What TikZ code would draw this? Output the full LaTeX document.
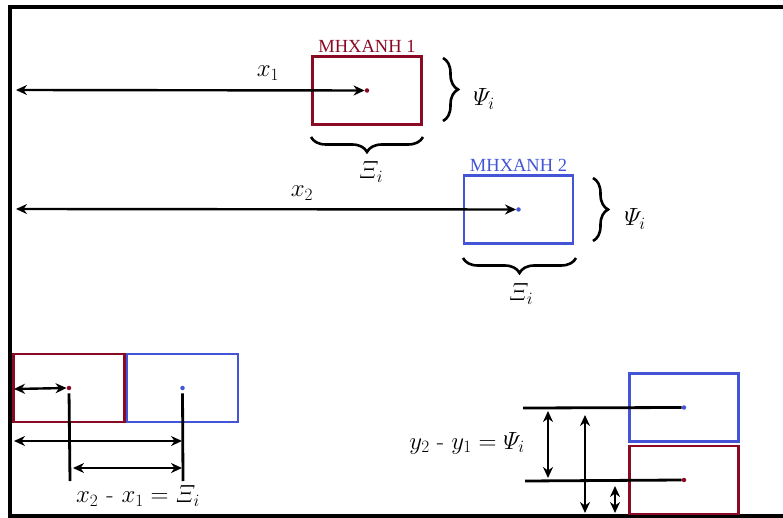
\documentclass[tikz,border=0pt]{standalone}
\usepackage{amsmath,amssymb}
\usepackage{fontspec}
\usepackage{xcolor}
\usepackage{tikz}
\usetikzlibrary{arrows.meta,positioning,decorations.pathreplacing,calc}
\newfontfamily\tagfont{Liberation Serif}
\definecolor{carRed}{RGB}{138,10,38}
\definecolor{carBlue}{RGB}{68,84,214}

\begin{document}
\begin{tikzpicture}[x=1pt,y=-1pt,
  box/.style={draw,line width=2.8pt,minimum width=109pt,minimum height=68pt,inner sep=0pt},
  redbox/.style={box,draw=carRed},
  bluebox/.style={box,draw=carBlue},
  dot/.style={circle,fill,inner sep=0pt,minimum size=4.5pt},
  dimarrow/.style={{Stealth[length=11pt,width=10pt]}-{Stealth[length=11pt,width=10pt]},line width=2.4pt},
  guide/.style={line width=2.8pt},
  curly/.style={decorate,decoration={brace,amplitude=15pt},line width=2.6pt},
  tag/.style={font=\tagfont\fontsize{18.5}{20}\selectfont},
  lbl/.style={font=\fontsize{24}{28}\selectfont}]
  \useasboundingbox (0,0) rectangle (783,518);
  \draw[line width=4pt] (790,7) -- (10,7) -- (10,516) -- (790,516);

  % first machine
  \node[redbox] (m1) at (367,90.5) {};
  \node[dot,carRed] (d1) at (m1.center) {};
  \node[tag,text=carRed,above=-1pt of m1] (t1) {MHXANH 1};
  \coordinate (x1end) at (16,90);
  \draw[dimarrow] (x1end) -- (d1.west);
  \node[lbl] (lx1) at (268,73) {$x_1$};
  \draw[curly] (443,58) -- (443,121);
  \node[lbl] (p1) at (484,99) {$\varPsi_i$};
  \draw[curly] (423,137) -- (311,137);
  \node[lbl] (xi1) at (371,172) {$\varXi_i$};

  % second machine
  \node[bluebox] (m2) at (518.5,209.5) {};
  \node[dot,carBlue] (d2) at (m2.center) {};
  \node[tag,text=carBlue,above=-1pt of m2] (t2) {MHXANH 2};
  \coordinate (x2end) at (16,209);
  \draw[dimarrow] (x2end) -- (d2.west);
  \node[lbl] (lx2) at (302,193) {$x_2$};
  \draw[curly] (593,178) -- (593,241);
  \node[lbl] (p2) at (635,219) {$\varPsi_i$};
  \draw[curly] (576,258) -- (463,258);
  \node[lbl] (xi2) at (521,294) {$\varXi_i$};

  % side by side
  \node[redbox,minimum width=111pt] (a1) at (69,388) {};
  \node[bluebox,minimum width=111pt] (a2) at (182.5,388) {};
  \node[dot,carRed] (e1) at (a1.center) {};
  \node[dot,carBlue] (e2) at (a2.center) {};
  \coordinate (v1) at (70,481);
  \coordinate (v2) at (183,481);
  \draw[guide,shorten <=3pt] (e1.south) -- (v1);
  \draw[guide,shorten <=3pt] (e2.south) -- (v2);
  \coordinate (h0) at (14,389);
  \draw[dimarrow] (h0) -- (e1.west);
  \coordinate (h1) at (14,441);
  \coordinate (h2) at (182,441);
  \draw[dimarrow] (h1) -- (h2);
  \coordinate (h3) at (73,468);
  \coordinate (h4) at (182,468);
  \draw[dimarrow] (h3) -- (h4);
  \node[lbl] (dx) at (138,496) {$x_2$\,\,-\,\,$x_1=\varXi_i$};

  % stacked
  \node[bluebox] (b2) at (684,407.5) {};
  \node[redbox] (b1) at (684,480) {};
  \node[dot,carBlue] (f2) at (b2.center) {};
  \node[dot,carRed] (f1) at (b1.center) {};
  \coordinate (g2) at (523,408);
  \coordinate (g1) at (525,481);
  \draw[guide] (g2) -- (f2.west);
  \draw[guide] (g1) -- (f1.west);
  \coordinate (k1) at (548,411);
  \coordinate (k2) at (548,478);
  \draw[dimarrow] (k1) -- (k2);
  \coordinate (k3) at (585,415);
  \coordinate (k4) at (585,513);
  \draw[dimarrow] (k3) -- (k4);
  \coordinate (k5) at (615,486);
  \coordinate (k6) at (615,513);
  \draw[dimarrow] (k5) -- (k6);
  \node[lbl] (dy) at (467,443) {$y_2$ - $y_1=\varPsi_i$};
\end{tikzpicture}
\end{document}
